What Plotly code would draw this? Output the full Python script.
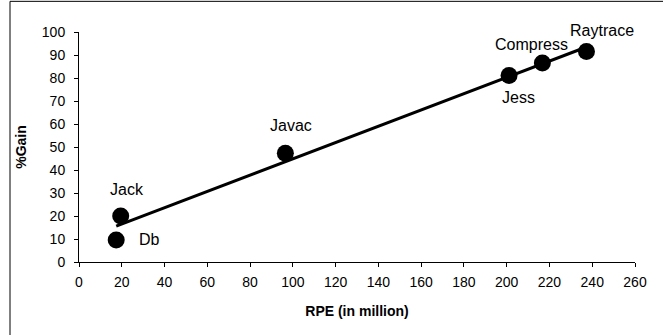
import numpy as np
import plotly.graph_objects as go

# Data
benchmarks = ["Db", "Jack", "Javac", "Jess", "Compress", "Raytrace"]
rpe_million = [17.4, 19.5, 96.5, 201.1, 216.7, 237.3]
pct_gain = [9.6, 20.0, 47.3, 81.1, 86.5, 91.5]

x_ticks = list(range(0, 261, 20))
y_ticks = list(range(0, 101, 10))

# label offsets (pixels) relative to each point
label_dx = [33, 6, 6, 9, -11, 16]
label_dy = [0, 27, 28, -22, 19, 21]

FONT = "Liberation Sans, Arial, sans-serif"

# linear trendline (least squares), spanning min..max x
slope, intercept = np.polyfit(rpe_million, pct_gain, 1)
tx = [min(rpe_million), max(rpe_million)]
ty = [slope * v + intercept for v in tx]

fig = go.Figure()
fig.add_trace(go.Scatter(x=tx, y=ty, mode="lines",
                         line=dict(color="black", width=3),
                         hoverinfo="skip", showlegend=False))
fig.add_trace(go.Scatter(x=rpe_million, y=pct_gain, mode="markers",
                         marker=dict(color="black", size=17),
                         text=benchmarks, showlegend=False))

for name, xv, yv, dx, dy in zip(benchmarks, rpe_million, pct_gain, label_dx, label_dy):
    fig.add_annotation(x=xv, y=yv, text=name, showarrow=False,
                       xshift=dx, yshift=dy,
                       font=dict(family=FONT, size=16, color="black"))

fig.add_shape(type="rect", xref="paper", yref="paper",
              x0=-0.1241, x1=1.08, y0=-0.4, y1=1.1333,
              line=dict(color="black", width=1), layer="above")

fig.update_layout(
    width=663, height=335,
    margin=dict(l=79, r=28, t=32, b=73),
    paper_bgcolor="white", plot_bgcolor="white",
    font=dict(family=FONT, size=14, color="black"),
    xaxis=dict(range=[0, 260], tickvals=x_ticks, ticks="outside", ticklen=4,
               tickcolor="black", showline=True, linecolor="black", linewidth=1,
               showgrid=False, zeroline=False, ticklabelstandoff=3,
               tickfont=dict(family=FONT, size=14),
               title=dict(text="<b>RPE (in million)</b>", standoff=17,
                          font=dict(family=FONT, size=14))),
    yaxis=dict(range=[0, 100], tickvals=y_ticks, ticks="outside", ticklen=4,
               tickcolor="black", showline=True, linecolor="black", linewidth=1,
               showgrid=False, zeroline=False, ticklabelstandoff=6,
               tickfont=dict(family=FONT, size=14),
               title=dict(text="<b>%Gain</b>", standoff=11,
                          font=dict(family=FONT, size=14))),
)

fig.write_html("out.html")
